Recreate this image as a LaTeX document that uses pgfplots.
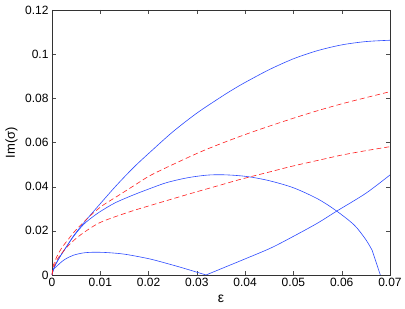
\documentclass[border=0pt]{standalone}
\usepackage{fontspec}
\setmainfont{Liberation Sans}
\usepackage{pgfplots}
\pgfplotsset{compat=1.18}
\definecolor{mblue}{RGB}{45,75,255}
\definecolor{mred}{RGB}{255,30,30}
\begin{document}
\begin{tikzpicture}
\begin{axis}[
  scale only axis,
  width=338pt, height=265pt,
  xmin=0, xmax=0.07, ymin=0, ymax=0.12,
  scaled x ticks=false, scaled y ticks=false,
  xtick={0,0.01,0.02,0.03,0.04,0.05,0.06,0.07},
  xticklabels={0,0.01,0.02,0.03,0.04,0.05,0.06,0.07},
  ytick={0,0.02,0.04,0.06,0.08,0.1,0.12},
  yticklabels={0,0.02,0.04,0.06,0.08,0.1,0.12},
  tick label style={font=\fontsize{12}{14}\selectfont},
  axis line style={black!80, line width=0.5pt},
  major tick length=4pt,
  tick style={black!70},
  xlabel={ε},
  ylabel={Im(σ)},
  every axis x label/.style={at={(axis description cs:0.5,-0.09)}, anchor=center, font=\fontsize{14}{16}\selectfont},
  every axis y label/.style={at={(axis description cs:-0.12,0.5)}, rotate=90, anchor=center, font=\fontsize{13}{15}\selectfont},
  clip=true,
]
% upper blue
\addplot[mblue, line width=0.6pt, smooth, tension=0.5] coordinates {
(0,0) (0.0003,0.0026) (0.001,0.0058) (0.002,0.0095) (0.003,0.0128) (0.0045,0.0178) (0.0065,0.0234) (0.01,0.0323) (0.0134,0.0407) (0.017,0.0489) (0.0203,0.0556) (0.025,0.0648) (0.03,0.0733) (0.035,0.0806) (0.0374,0.0839) (0.04,0.0872) (0.045,0.0930) (0.05,0.0979) (0.055,0.1016) (0.06,0.1042) (0.065,0.1057) (0.07,0.1063)};
% middle blue
\addplot[mblue, line width=0.6pt, smooth, tension=0.5] coordinates {
(0,0) (0.0003,0.0026) (0.001,0.0058) (0.002,0.0095) (0.003,0.0128) (0.0045,0.0176) (0.0065,0.0228) (0.0083,0.0261) (0.0099,0.0286) (0.013,0.0326) (0.0168,0.0362) (0.02,0.0389) (0.0237,0.0418) (0.028,0.0440) (0.032,0.0452) (0.035,0.0454) (0.038,0.0451) (0.041,0.0444) (0.045,0.0427) (0.05,0.0395) (0.055,0.0345) (0.0588,0.0292) (0.0626,0.0226) (0.065,0.0160) (0.0663,0.0112)};
\addplot[mblue, line width=0.6pt] coordinates {(0.0663,0.0112) (0.068,0)};
% lower blue
\addplot[mblue, line width=0.6pt, smooth, tension=0.5] coordinates {
(0,0) (0.0003,0.0025) (0.001,0.0040) (0.002,0.0060) (0.003,0.0075) (0.0045,0.0090) (0.0065,0.0100) (0.0086,0.0103) (0.011,0.0102) (0.014,0.0097) (0.0162,0.0090) (0.0204,0.0072) (0.025,0.0045) (0.028,0.0026) (0.0319,0)};
\addplot[mblue, line width=0.6pt, smooth, tension=0.5] coordinates {
(0.0319,0) (0.035,0.0028) (0.04,0.0073) (0.0453,0.0122) (0.05,0.0175) (0.055,0.0235) (0.0588,0.0287) (0.065,0.0370) (0.07,0.0453)};
% upper red dashed
\addplot[mred, line width=0.6pt, dash pattern=on 5pt off 3pt, smooth, tension=0.5] coordinates {
(0,0) (0.0003,0.0045) (0.001,0.0083) (0.002,0.0122) (0.003,0.0151) (0.005,0.0205) (0.0079,0.0268) (0.0105,0.0315) (0.0134,0.0355) (0.017,0.0405) (0.0203,0.0450) (0.025,0.0500) (0.0306,0.0556) (0.035,0.0595) (0.04,0.0636) (0.045,0.0674) (0.05,0.0710) (0.055,0.0744) (0.06,0.0775) (0.065,0.0803) (0.07,0.0830)};
% lower red dashed
\addplot[mred, line width=0.6pt, dash pattern=on 5pt off 3pt, smooth, tension=0.5] coordinates {
(0,0) (0.0003,0.0032) (0.001,0.0068) (0.002,0.0098) (0.0037,0.0140) (0.006,0.0183) (0.01,0.0238) (0.0162,0.0287) (0.0204,0.0315) (0.025,0.0345) (0.03,0.0377) (0.035,0.0408) (0.039,0.0433) (0.0453,0.0468) (0.05,0.0494) (0.0563,0.0525) (0.06,0.0543) (0.065,0.0563) (0.07,0.0581)};
\end{axis}
\path (current axis.south west) ++(-52pt,-34pt) coordinate (bbA);
\path (current axis.north east) ++(15pt,10pt) coordinate (bbB);
\path (bbA) rectangle (bbB);
\end{tikzpicture}
\end{document}
